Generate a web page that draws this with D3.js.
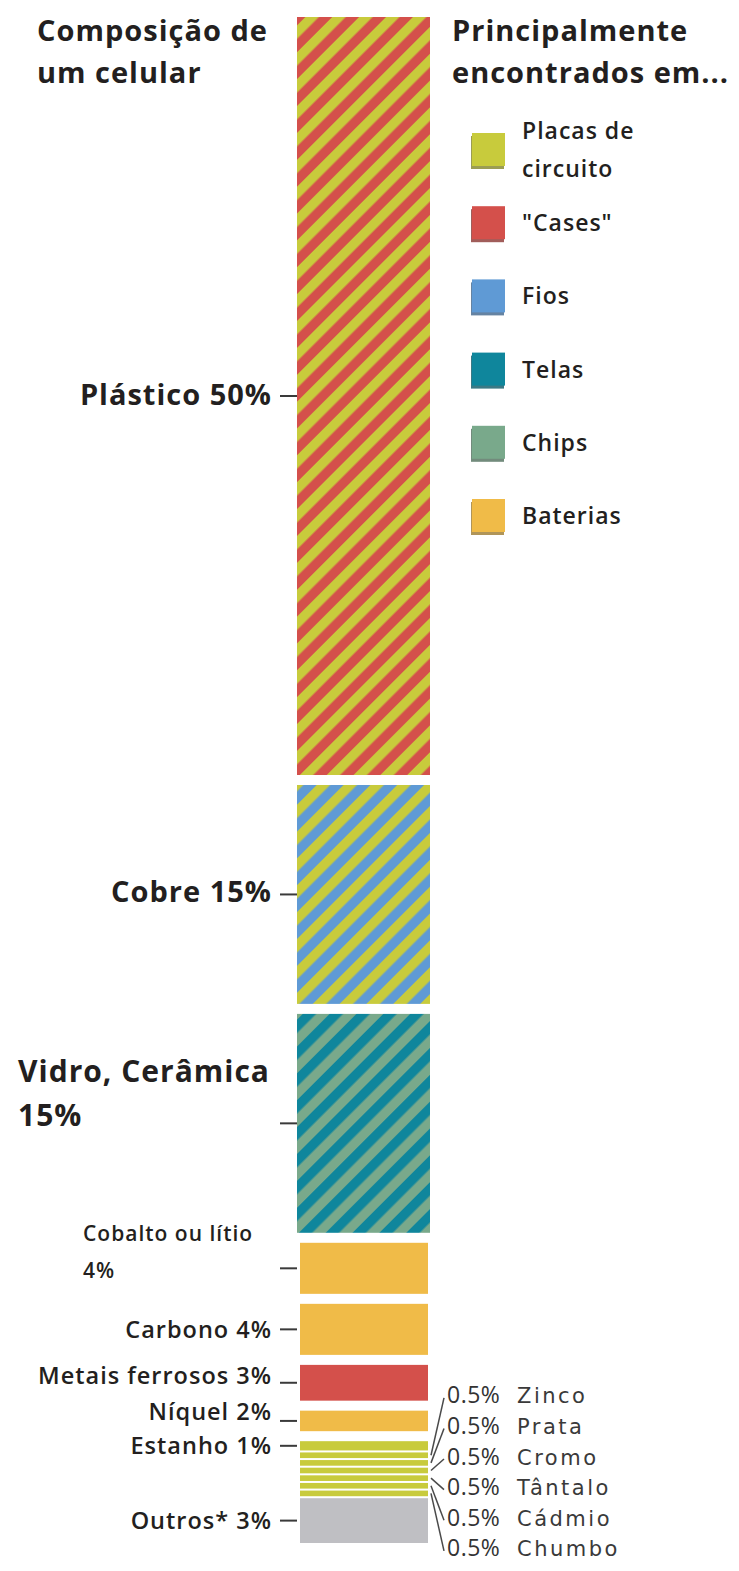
<!DOCTYPE html>
<html>
<head>
<meta charset="utf-8">
<script src="https://cdn.jsdelivr.net/npm/d3@7"></script>
<style>
  body { margin: 0; background: #fff; }
  svg text { font-family: "Open Sans", Lato, sans-serif; fill: #231f20; }
</style>
</head>
<body>
<svg id="chart" width="739" height="1571"></svg>
<script>
// Materials in a mobile phone, by share of mass (%), top to bottom
const materials = ["Plástico", "Cobre", "Vidro, Cerâmica", "Cobalto ou lítio", "Carbono",
  "Metais ferrosos", "Níquel", "Estanho", "Zinco", "Prata", "Cromo", "Tântalo", "Cádmio",
  "Chumbo", "Outros*"];
const shares = [50, 15, 15, 4, 4, 3, 2, 1, 0.5, 0.5, 0.5, 0.5, 0.5, 0.5, 3];
// Where each material is mainly found
const foundIn = [
  ["Placas de circuito", "\"Cases\""],
  ["Placas de circuito", "Fios"],
  ["Telas", "Chips"],
  ["Baterias"],
  ["Baterias"],
  ["\"Cases\""],
  ["Baterias"],
  ["Placas de circuito"],
  ["Placas de circuito"],
  ["Placas de circuito"],
  ["Placas de circuito"],
  ["Placas de circuito"],
  ["Placas de circuito"],
  ["Placas de circuito"],
  ["Outros"]
];
// Components (legend) and their colours
const components = ["Placas de circuito", "\"Cases\"", "Fios", "Telas", "Chips", "Baterias", "Outros"];
const componentColors = ["#c8cb3c", "#d4504b", "#5f9ad5", "#0f869c", "#79a98b", "#f0bb48", "#bfbfc3"];
const legendItems = ["Placas de circuito", "\"Cases\"", "Fios", "Telas", "Chips", "Baterias"];

const titleLeft = ["Composição de", "um celular"];
const titleRight = ["Principalmente", "encontrados em..."];

// ---- layout ----
const svg = d3.select("#chart");
const defs = svg.append("defs");

const total = d3.sum(shares);
const starts = shares.map((_, i) => d3.sum(shares.slice(0, i)));
const y = d3.scaleLinear().domain([0, total]).range([17, 1543]);
const color = d3.scaleOrdinal().domain(components).range(componentColors);

// thin separators inside the run of small metals, wider gaps elsewhere
const gapAfter = i => i === shares.length - 1 ? 0 : (shares[i] <= 1 ? 2 : 10);
const gapBefore = i => i === 0 ? 0 : gapAfter(i - 1);

const segs = materials.map((name, i) => {
  const top = y(starts[i]) + gapBefore(i) / 2;
  const bottom = y(starts[i] + shares[i]) - gapAfter(i) / 2;
  return { i, name, share: shares[i], uses: foundIn[i], top, bottom, mid: (top + bottom) / 2 };
});

// diagonal two-colour stripes for materials used in two components
const period = 19;
segs.filter(d => d.uses.length === 2).forEach(d => {
  const p = defs.append("pattern")
    .attr("id", "stripes-" + d.i)
    .attr("patternUnits", "userSpaceOnUse")
    .attr("width", period).attr("height", period)
    .attr("patternTransform", "rotate(45)");
  p.append("rect").attr("width", period).attr("height", period).attr("fill", color(d.uses[1]));
  p.append("rect").attr("width", period / 2).attr("height", period).attr("fill", color(d.uses[0]));
});

const barX = 297, barW = 133;
svg.append("g").selectAll("rect")
  .data(segs)
  .join("rect")
  .attr("x", d => d.uses.length === 2 ? barX : barX + 3)
  .attr("width", d => d.uses.length === 2 ? barW : barW - 5)
  .attr("y", d => d.top)
  .attr("height", d => d.bottom - d.top)
  .attr("fill", d => d.uses.length === 2 ? `url(#stripes-${d.i})` : color(d.uses[0]));

// ---- left labels with tick marks ----
const labelled = segs.filter(d => d.share >= 1);
svg.append("g").selectAll("line")
  .data(labelled)
  .join("line")
  .attr("x1", 280).attr("x2", 297)
  .attr("y1", d => d.mid).attr("y2", d => d.mid)
  .attr("stroke", "#3a3a3a").attr("stroke-width", 2);

const wrapped = {
  "Vidro, Cerâmica": { x: 18, dy: [-52, -8], size: 30 },
  "Cobalto ou lítio": { x: 83, dy: [-35, 2], size: 21 }
};
const nudge = { "Cobre": -3, "Metais ferrosos": -7, "Níquel": -9, "Plástico": -1 };

const leftG = svg.append("g");
labelled.forEach(d => {
  const big = d.share >= 15;
  const size = big ? 29 : 23.5;
  const weight = big ? 700 : 600;
  if (wrapped[d.name]) {
    const w = wrapped[d.name];
    [d.name, d.share + "%"].forEach((line, k) => {
      leftG.append("text")
        .attr("x", w.x).attr("y", d.mid + w.dy[k])
        .attr("dy", "0.35em")
        .style("font-size", w.size + "px").style("font-weight", weight)
        .style("letter-spacing", "1px")
        .text(line);
    });
  } else {
    leftG.append("text")
      .attr("x", 272).attr("y", d.mid + (nudge[d.name] || 0))
      .attr("dy", "0.35em")
      .attr("text-anchor", "end")
      .style("font-size", size + "px").style("font-weight", weight)
      .style("letter-spacing", "1px")
      .text(`${d.name} ${d.share}%`);
  }
});

// ---- right labels for the half-percent metals ----
const small = segs.filter(d => d.share < 1);
const smallCenter = d3.mean(small, d => d.mid);
const step = 30.6;
small.forEach((d, k) => { d.ly = smallCenter + (k - (small.length - 1) / 2) * step; });

const rightG = svg.append("g");
rightG.selectAll("line")
  .data(small)
  .join("line")
  .attr("x1", barX + barW + 1).attr("y1", d => d.mid)
  .attr("x2", 444).attr("y2", d => d.ly)
  .attr("stroke", "#4a4a4a").attr("stroke-width", 1.5);

const rt = rightG.selectAll("text")
  .data(small)
  .join("text")
  .attr("y", d => d.ly)
  .attr("dy", "0.35em");
rt.append("tspan")
  .attr("x", 447)
  .style("font-size", "23px").style("fill", "#333")
  .style("letter-spacing", "0.5px")
  .text(d => d.share + "%");
rt.append("tspan")
  .attr("x", 517)
  .style("font-family", "'DejaVu Sans', sans-serif")
  .style("font-size", "21px").style("fill", "#3a3a3a")
  .style("letter-spacing", "2.5px")
  .text(d => d.name);

// ---- titles ----
titleLeft.forEach((t, k) => {
  svg.append("text").attr("x", 37).attr("y", 31 + k * 42).attr("dy", "0.35em")
    .style("font-size", "29px").style("font-weight", 700).style("letter-spacing", "1px")
    .text(t);
});
titleRight.forEach((t, k) => {
  svg.append("text").attr("x", 452).attr("y", 31 + k * 42).attr("dy", "0.35em")
    .style("font-size", "29px").style("font-weight", 700).style("letter-spacing", "1px")
    .text(t);
});

// ---- legend ----
const legend = svg.append("g");
const legendY = d3.scalePoint().domain(legendItems).range([151, 517]);
legendItems.forEach(key => {
  const cy = legendY(key);
  const c = color(key);
  legend.append("rect").attr("x", 471).attr("y", cy - 15).attr("width", 33).attr("height", 33)
    .attr("fill", d3.color(c).darker(1.2)).attr("opacity", 0.8);
  legend.append("rect").attr("x", 472).attr("y", cy - 18).attr("width", 33).attr("height", 33)
    .attr("fill", c);
  const lines = key === "Placas de circuito" ? ["Placas de", "circuito"] : [key];
  lines.forEach((line, k) => {
    legend.append("text")
      .attr("x", 522).attr("y", cy - 1 + (k - (lines.length - 1) / 2) * 38)
      .attr("dy", "0.35em")
      .style("font-size", "23px").style("font-weight", 600).style("letter-spacing", "1px")
      .text(line);
  });
});
</script>
</body>
</html>
